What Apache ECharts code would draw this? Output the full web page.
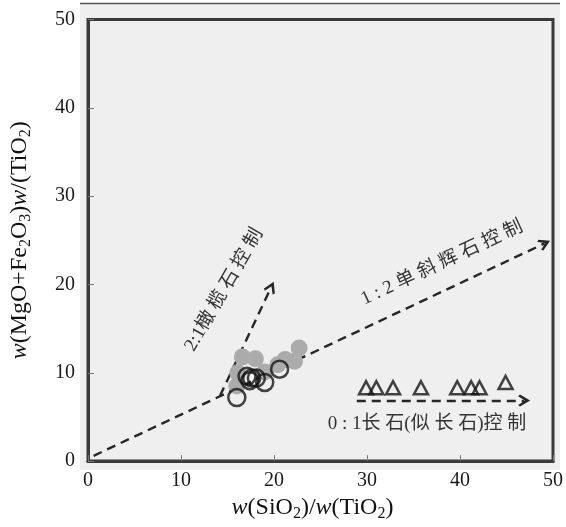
<!DOCTYPE html>
<html><head><meta charset="utf-8">
<script src="https://cdn.jsdelivr.net/npm/echarts@6/dist/echarts.min.js"></script>
<style>html,body{margin:0;padding:0;background:#fff}#c{width:566px;height:527px}</style>
</head><body><div id="c"></div>
<script>
// axis ranges / ticks
const xAxisMin = 0, xAxisMax = 50, yAxisMin = 0, yAxisMax = 50, tickStep = 10;

// grey filled circles
const grayX = [22.7, 22.2, 21.2, 20.4, 16.6, 18.0, 16.1, 19.0, 16.0];
const grayY = [12.8, 11.3, 11.5, 10.9, 11.8, 11.6, 10.0, 10.1, 8.5];

// open circles
const circleX = [16.0, 17.1, 17.6, 18.1, 17.4, 19.0, 20.6];
const circleY = [7.2, 9.6, 9.4, 9.4, 9.1, 8.9, 10.4];

// open triangles
const triX = [29.9, 31.0, 32.8, 35.8, 39.7, 41.2, 42.1, 44.9];
const triY = [8.3, 8.3, 8.3, 8.3, 8.3, 8.3, 8.3, 8.9];

// control trend lines (start, end)
const line12X = [0.6, 49.1], line12Y = [0.6, 24.65];
const line21X = [14.2, 19.7], line21Y = [7.4, 19.7];
const line01X = [28.9, 46.9], line01Y = [6.85, 6.85];

const labelTexts = ['2:1橄 榄 石 控 制', '1 : 2 单 斜 辉 石 控 制', '0 : 1长 石(似 长 石)控 制'];
const xName = '{i|w}(SiO{s|2})/{i|w}(TiO{s|2})';
const yName = '{i|w}(MgO+Fe{s|2}O{s|3}){i|w}/(TiO{s|2})';

const F = '"Liberation Serif", "Noto Sans CJK SC", serif';
const zip = (a, b) => a.map((v, i) => [v, b[i]]);

const nameStyle = {
  fontFamily: F, fontSize: 24, color: '#111',
  rich: {
    i: {fontFamily: F, fontSize: 24, fontStyle: 'italic', color: '#111'},
    s: {fontFamily: F, fontSize: 16, color: '#111', padding: [12, 0, 0, 0]}
  }
};

const dash = {type: [9, 6], width: 2.4, color: '#262626', opacity: 1};
const arrow = 'path://M5,0 L10,7.5 L8.6,8.8 L5,3.8 L1.4,8.8 L0,7.5 Z';

const chart = echarts.init(document.getElementById('c'), null, {renderer: 'canvas'});
chart.setOption({
  animation: false,
  grid: {left: 88, right: 12, top: 19.5, bottom: 65, show: true, borderColor: '#3a3a3a', borderWidth: 3, backgroundColor: 'transparent'},
  xAxis: {
    type: 'value', min: xAxisMin, max: xAxisMax, interval: tickStep,
    axisLine: {show: true, onZero: false, lineStyle: {color: '#3a3a3a', width: 3}},
    axisTick: {show: true, inside: true, length: 6, lineStyle: {color: '#777', width: 1}},
    axisLabel: {fontFamily: F, fontSize: 20, color: '#1a1a1a', margin: 10},
    splitLine: {show: false},
    name: xName, nameLocation: 'middle', nameGap: 28,
    nameTextStyle: Object.assign({padding: [0, 16, 0, 0]}, nameStyle)
  },
  yAxis: {
    type: 'value', min: yAxisMin, max: yAxisMax, interval: tickStep,
    axisLine: {show: true, onZero: false, lineStyle: {color: '#3a3a3a', width: 3}},
    axisTick: {show: true, inside: true, length: 6, lineStyle: {color: '#777', width: 1}},
    axisLabel: {fontFamily: F, fontSize: 20, color: '#1a1a1a', margin: 13, padding: [6, 0, 0, 0]},
    splitLine: {show: false},
    name: yName, nameLocation: 'middle', nameGap: 54, nameRotate: 90,
    nameTextStyle: nameStyle
  },
  graphic: [
    {type: 'rect', z: -10, silent: true, shape: {x: 80, y: 4, width: 480, height: 466}, style: {fill: '#efefef'}},
    {type: 'line', z: -9, silent: true, shape: {x1: 80, y1: 3.5, x2: 560, y2: 3.5}, style: {stroke: '#555', lineWidth: 1.5}},
    {type: 'text', x: 224, y: 290, rotation: 60 * Math.PI / 180, style: {text: labelTexts[0], fontFamily: F, fontSize: 19, fill: '#333', align: 'center', verticalAlign: 'middle'}},
    {type: 'text', x: 442, y: 263, rotation: 25 * Math.PI / 180, style: {text: labelTexts[1], fontFamily: F, fontSize: 19, fill: '#333', align: 'center', verticalAlign: 'middle'}},
    {type: 'text', x: 427, y: 424, style: {text: labelTexts[2], fontFamily: F, fontSize: 19, fill: '#333', align: 'center', verticalAlign: 'middle'}}
  ],
  series: [
    {type: 'lines', coordinateSystem: 'cartesian2d', z: 1, symbol: ['none', arrow], symbolSize: 12,
      lineStyle: dash,
      data: [
        {coords: zip(line12X, line12Y)},
        {coords: zip(line21X, line21Y)},
        {coords: zip(line01X, line01Y)}
      ]},
    {type: 'scatter', z: 2, symbol: 'circle', symbolSize: 17, itemStyle: {color: '#ababab', opacity: 1}, data: zip(grayX, grayY)},
    {type: 'scatter', z: 3, symbol: 'circle', symbolSize: 17, itemStyle: {color: 'rgba(0,0,0,0)', borderColor: '#151515', borderWidth: 2.5}, data: zip(circleX, circleY)},
    {type: 'scatter', z: 3, symbol: 'triangle', symbolSize: [14, 13], itemStyle: {color: 'rgba(0,0,0,0)', borderColor: '#151515', borderWidth: 2.5}, data: zip(triX, triY)}
  ]
});
</script></body></html>
